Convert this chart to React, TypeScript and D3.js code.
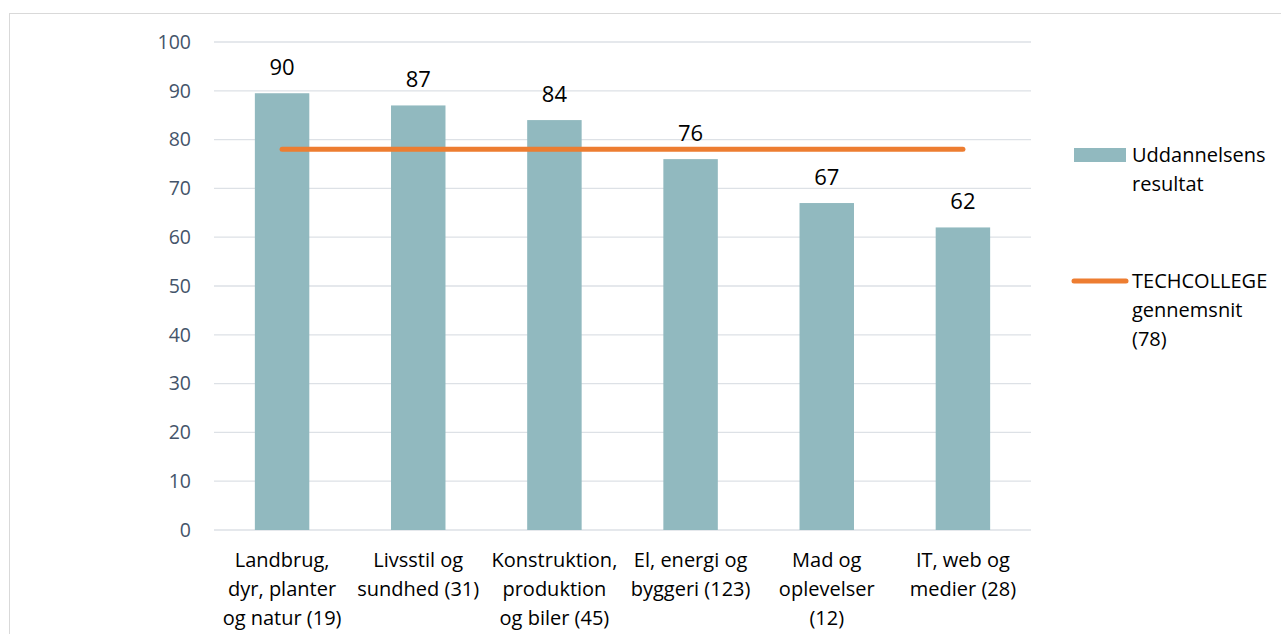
import React from "react";
import * as d3 from "d3";

const categories: string[][] = [
  ["Landbrug,", "dyr, planter", "og natur (19)"],
  ["Livsstil og", "sundhed (31)"],
  ["Konstruktion,", "produktion", "og biler (45)"],
  ["El, energi og", "byggeri (123)"],
  ["Mad og", "oplevelser", "(12)"],
  ["IT, web og", "medier (28)"],
];
const values: number[] = [89.5, 87, 84, 76, 67, 62];
const average: number = 78;
const yTicks: number[] = [0, 10, 20, 30, 40, 50, 60, 70, 80, 90, 100];
const legendBar: string[] = ["Uddannelsens", "resultat"];
const legendLine: string[] = ["TECHCOLLEGE", "gennemsnit", "(78)"];

const W = 1281;
const H = 634;
const FONT = "'Open Sans', sans-serif";

export default function App() {
  const plotLeft = 214;
  const plotRight = 1031;
  const plotTop = 42;
  const plotBottom = 530;

  const ids = categories.map((_, i) => String(i));
  const x = d3.scaleBand<string>().domain(ids).range([plotLeft, plotRight]).paddingInner(0.6).paddingOuter(0.3);
  const y = d3.scaleLinear().domain([0, 100]).range([plotBottom, plotTop]);

  const lineGen = d3
    .line<number>()
    .x((_, i) => (x(String(i)) as number) + x.bandwidth() / 2)
    .y(() => y(average));

  return (
    <svg
      width={W}
      height={H}
      style={{ position: "absolute", left: 0, top: 0, background: "#fff" }}
      fontFamily={FONT}
    >
      <rect x={9.5} y={13.5} width={1280} height={640} fill="#fff" stroke="#D9D9D9" strokeWidth={1} />
      {yTicks.map((t) => (
        <g key={t}>
          <line x1={plotLeft} x2={plotRight} y1={y(t)} y2={y(t)} stroke="#DDE1E6" strokeWidth={1.3} />
          <text x={191} y={y(t)} dy="0.35em" textAnchor="end" fontSize={19.5} fill="#44546A">
            {t}
          </text>
        </g>
      ))}
      {values.map((v, i) => {
        const bx = x(String(i)) as number;
        return (
          <g key={i}>
            <rect x={bx} y={y(v)} width={x.bandwidth()} height={y(0) - y(v)} fill="#91B9BF" />
            <text
              x={bx + x.bandwidth() / 2}
              y={y(v) - 26}
              dy="0.35em"
              textAnchor="middle"
              fontSize={22}
              fill="#000"
            >
              {Math.round(v)}
            </text>
          </g>
        );
      })}
      <path
        d={lineGen(values) || ""}
        fill="none"
        stroke="#ED7D31"
        strokeWidth={5}
        strokeLinecap="round"
      />
      {categories.map((lines, i) => {
        const cx = (x(String(i)) as number) + x.bandwidth() / 2;
        return (
          <text key={i} textAnchor="middle" fontSize={20} fill="#000">
            {lines.map((l, j) => (
              <tspan key={j} x={cx} y={560 + j * 29} dy="0.35em">
                {l}
              </tspan>
            ))}
          </text>
        );
      })}
      <rect x={1074} y={148} width={52} height={14} fill="#91B9BF" />
      <text fontSize={20} fill="#000">
        {legendBar.map((l, j) => (
          <tspan key={j} x={1132} y={155 + j * 29} dy="0.35em">
            {l}
          </tspan>
        ))}
      </text>
      <line x1={1074} x2={1126} y1={281} y2={281} stroke="#ED7D31" strokeWidth={5} strokeLinecap="round" />
      <text fontSize={20} fill="#000">
        {legendLine.map((l, j) => (
          <tspan key={j} x={1132} y={281 + j * 29} dy="0.35em">
            {l}
          </tspan>
        ))}
      </text>
    </svg>
  );
}
